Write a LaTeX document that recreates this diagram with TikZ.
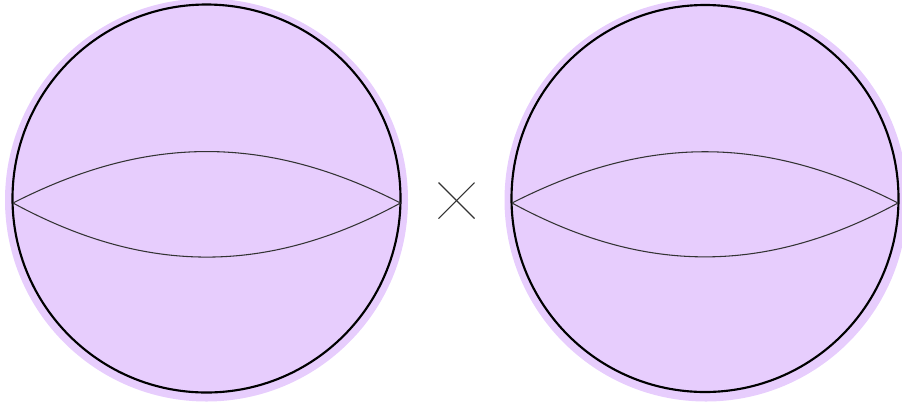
\documentclass[tikz,border=0pt]{standalone}
\usepackage{tikz}

\definecolor{lilas}{RGB}{231,205,253}

\tikzset{
  bord/.style={draw=black,line width=1.6pt},
  equateur/.style={draw=black!80,line width=0.8pt},
}

\begin{document}
\begin{tikzpicture}[x=0.75pt,y=-0.75pt]

\useasboundingbox (0,0) rectangle (902,405);

% Remplissages
\fill[lilas]
(206.5,200)
circle (201.5);

\fill[lilas]
(706,200)
circle (201.5);

% Sphère gauche
\node[bord,circle,minimum size=388*0.75pt,inner sep=0pt]
(sphG) at (206.5,198.5) {};

\coordinate (gA) at (13,203);
\coordinate (gB) at (400.5,203);

\draw[equateur]
(gA)
to[bend left=27]
(gB);

\draw[equateur]
(gA)
to[bend right=28.5]
(gB);

% Produit
\coordinate (fois) at (456.5,200.5);

\draw[black!80,line width=0.8pt]
(fois) ++(-18,-18)
--
++(36,36);

\draw[black!80,line width=0.8pt]
(fois) ++(18,-18)
--
++(-36,36);

% Sphère droite
\node[bord,circle,minimum size=387*0.75pt,inner sep=0pt]
(sphD) at (705,198.5) {};

\coordinate (dA) at (512,203);
\coordinate (dB) at (898,203);

\draw[equateur]
(dA)
to[bend left=27]
(dB);

\draw[equateur]
(dA)
to[bend right=28.5]
(dB);

\end{tikzpicture}
\end{document}
